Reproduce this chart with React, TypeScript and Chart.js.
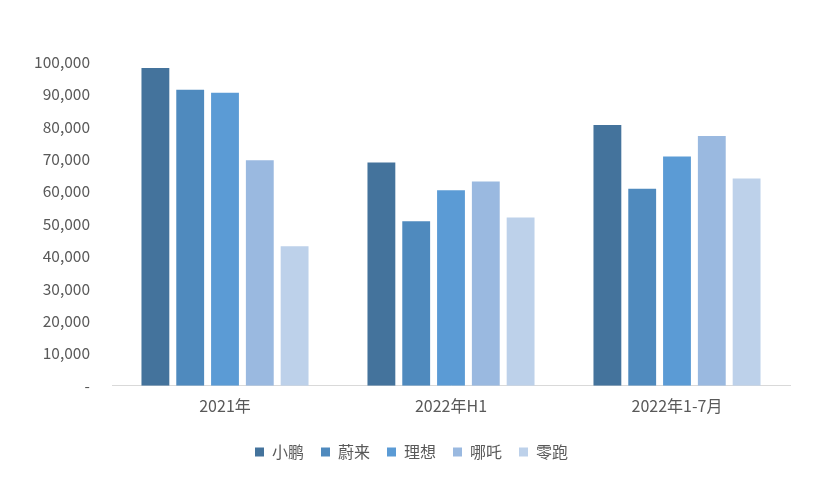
import React, { useEffect, useRef } from "react";
import { Chart, registerables } from "chart.js";

Chart.register(...registerables);

const categories = ["2021年", "2022年H1", "2022年1-7月"];
const seriesNames = ["小鹏", "蔚来", "理想", "哪吒", "零跑"];
const xpeng = [98155, 68983, 80507];
const nio = [91429, 50827, 60879];
const li = [90491, 60403, 70825];
const neta = [69674, 63131, 77168];
const leap = [43121, 51994, 64038];
const colors = ["#44739C", "#4F8ABE", "#5B9BD5", "#9AB9E0", "#BDD1EA"];
const yTicks = [0, 10000, 20000, 30000, 40000, 50000, 60000, 70000, 80000, 90000, 100000];

const FONT = "'Noto Sans CJK SC', 'Noto Sans', sans-serif";

export default function App() {
  const ref = useRef<HTMLCanvasElement | null>(null);
  useEffect(() => {
    const values = [xpeng, nio, li, neta, leap];
    const chart = new Chart(ref.current!, {
      type: "bar",
      data: {
        labels: categories,
        datasets: seriesNames.map((n, i) => ({
          label: n,
          data: values[i],
          backgroundColor: colors[i],
          borderWidth: 0,
          categoryPercentage: 0.77,
          barPercentage: 0.8,
        })),
      },
      options: {
        animation: false,
        responsive: false,
        maintainAspectRatio: false,
        layout: { padding: { left: 33, right: 30, top: 62, bottom: 10 } },
        plugins: {
          legend: {
            position: "bottom",
            labels: {
              boxWidth: 9,
              boxHeight: 9,
              padding: 17,
              color: "#595959",
              font: { family: FONT, size: 16 },
            },
          },
          tooltip: { enabled: false },
        },
        scales: {
          x: {
            grid: { display: false, drawTicks: false },
            border: { display: true, color: "#D9D9D9", width: 1 },
            ticks: { color: "#595959", font: { family: FONT, size: 16 }, padding: 11 },
          },
          y: {
            min: 0,
            max: 100000,
            afterBuildTicks: (s: any) => {
              s.ticks = yTicks.map((v) => ({ value: v }));
            },
            afterFit: (s: any) => {
              s.width = 79;
            },
            grid: { display: false, drawTicks: false },
            border: { display: false },
            ticks: {
              color: "#595959",
              font: { family: FONT, size: 15.5 },
              padding: 22,
              callback: (v: any) => (Number(v) === 0 ? "-" : Number(v).toLocaleString("en-US")),
            },
          },
        },
      },
    });
    return () => chart.destroy();
  }, []);
  return (
    <div style={{ position: "fixed", left: 0, top: 0, width: 820, height: 480, background: "#fff" }}>
      <canvas ref={ref} width={820} height={480} />
    </div>
  );
}
